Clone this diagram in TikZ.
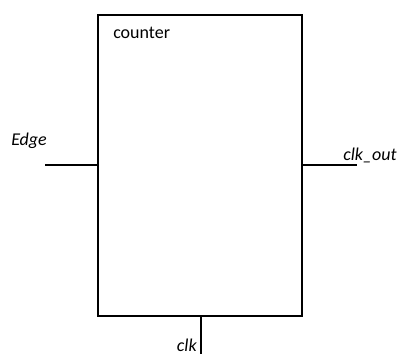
\documentclass[tikz,border=0pt]{standalone}
\usepackage{fontspec}
\setmainfont{Carlito}
\begin{document}
\begin{tikzpicture}[x=0.75pt,y=-0.75pt,
  wire/.style={line width=1.5pt},
  lbl/.style={font=\fontsize{13.5}{16}\selectfont\itshape, inner sep=0pt, text=black},
  blk/.style={draw, line width=1.5pt, minimum width=204*0.75pt, minimum height=301*0.75pt, inner sep=0pt}]
\useasboundingbox (0,0) rectangle (402,354);
\node[blk] (box) at (200,165.5) {};
\node[font=\fontsize{13.5}{16}\selectfont, inner sep=0pt, anchor=west] (title) at (113,33) {counter};
\coordinate (edgein) at (45,165);
\coordinate (clkoutend) at (357,165);
\coordinate (clkin) at (201,354);
\draw[wire] (edgein) -- (edgein -| box.west);
\draw[wire] (clkoutend -| box.east) -- (clkoutend);
\draw[wire] (clkin |- box.south) -- (clkin);
\node[lbl, anchor=west] (edge) at (11,141) {Edge};
\node[lbl, anchor=west] (clkout) at (343,155) {clk\_out};
\node[lbl, anchor=east] (clk) at (197,345) {clk};
\end{tikzpicture}
\end{document}
